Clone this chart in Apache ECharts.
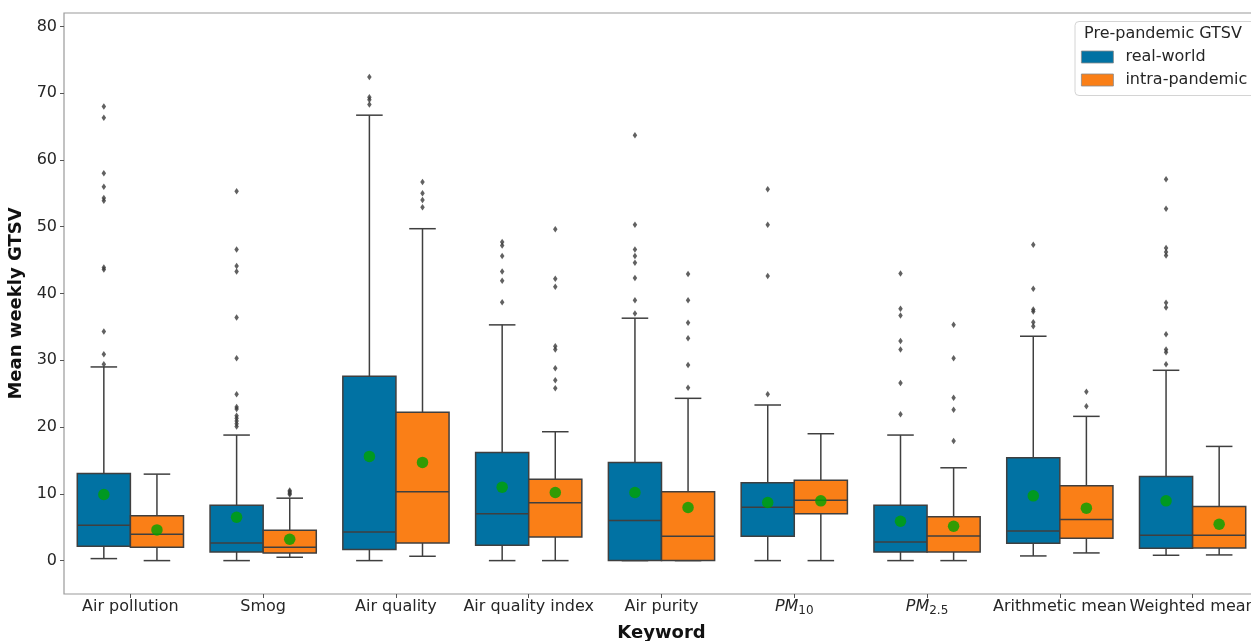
<!DOCTYPE html>
<html>
<head>
<meta charset="utf-8">
<script src="https://cdn.jsdelivr.net/npm/echarts@6/dist/echarts.min.js"></script>
<style>
  html, body { margin: 0; padding: 0; background: #fff; }
  #chart { width: 1251px; height: 641px; }
</style>
</head>
<body>
<div id="chart"></div>
<script>
// Keywords on the x axis
const keywords = ['Air pollution', 'Smog', 'Air quality', 'Air quality index', 'Air purity',
  'PM10', 'PM2.5', 'Arithmetic mean', 'Weighted mean'];

// Box statistics per keyword: [lower whisker, Q1, median, Q3, upper whisker]
const realWorldBox = [
  [0.3, 2.15, 5.3, 13.05, 29.0],
  [0, 1.3, 2.65, 8.3, 18.8],
  [0, 1.65, 4.3, 27.6, 66.7],
  [0, 2.3, 7.0, 16.2, 35.3],
  [0, 0, 6.0, 14.7, 36.3],
  [0, 3.65, 8.0, 11.65, 23.3],
  [0, 1.3, 2.8, 8.3, 18.8],
  [0.7, 2.6, 4.45, 15.4, 33.6],
  [0.8, 1.85, 3.8, 12.6, 28.5]
];
const intraBox = [
  [0, 2.0, 3.95, 6.7, 12.95],
  [0.5, 1.15, 2.0, 4.55, 9.35],
  [0.65, 2.65, 10.3, 22.2, 49.7],
  [0, 3.55, 8.65, 12.2, 19.3],
  [0, 0, 3.65, 10.3, 24.3],
  [0, 7.0, 9.05, 12.05, 19.0],
  [0, 1.3, 3.7, 6.55, 13.9],
  [1.15, 3.35, 6.15, 11.2, 21.6],
  [0.85, 1.9, 3.8, 8.1, 17.1]
];

// Means per keyword
const realWorldMeans = [9.9, 6.5, 15.6, 11.0, 10.2, 8.7, 5.9, 9.7, 8.95];
const intraMeans = [4.6, 3.2, 14.7, 10.2, 7.95, 8.95, 5.15, 7.85, 5.45];

// Outliers per keyword
const realWorldOutliers = [
  [29.4, 30.9, 34.3, 43.6, 43.9, 53.9, 54.3, 56.0, 58.0, 66.3, 68.0],
  [20.1, 20.5, 20.9, 21.3, 21.7, 22.7, 23.0, 24.9, 30.3, 36.4, 43.3, 44.1, 46.6, 55.3],
  [68.3, 69.0, 69.4, 72.4],
  [38.7, 41.9, 43.3, 45.6, 47.2, 47.7],
  [37.0, 39.0, 42.3, 44.6, 45.6, 46.6, 50.3, 63.7],
  [24.9, 42.6, 50.3, 55.6],
  [21.9, 26.6, 31.6, 32.9, 36.7, 37.7, 43.0],
  [35.1, 35.7, 37.3, 37.6, 40.7, 47.3],
  [29.4, 31.2, 31.6, 33.9, 37.9, 38.6, 45.7, 46.2, 46.8, 52.7, 57.1]
];
const intraOutliers = [
  [],
  [9.9, 10.1, 10.3, 10.5],
  [52.9, 54.0, 55.0, 56.7],
  [25.8, 27.0, 28.8, 31.6, 32.1, 41.0, 42.2, 49.6],
  [25.9, 29.3, 33.3, 35.6, 39.0, 42.9],
  [],
  [17.9, 22.6, 24.4, 30.3, 35.3],
  [23.1, 25.3],
  []
];

const yTicks = [0, 10, 20, 30, 40, 50, 60, 70, 80];
const groupNames = ['real-world', 'intra-pandemic'];

const FONT = 'DejaVu Sans';
const BLUE = '#0172a3';
const ORANGE = '#fa7f17';
const EDGE = '#3f3f3f';
const BOX_FRAC = 0.4;   // each box takes 40% of a category band
const OFFSETS = [-0.2, 0.2];

function boxRenderer(offset) {
  return function (params, api) {
    const cat = api.value(0);
    const band = api.size([1, 0])[0];
    const w = band * BOX_FRAC;
    const cx = api.coord([cat, 0])[0] + offset * band;
    const y = [1, 2, 3, 4, 5].map(d => api.coord([cat, api.value(d)])[1]);
    const color = api.visual('color');
    const lineStyle = { stroke: EDGE, lineWidth: 1.5 };
    return {
      type: 'group',
      children: [
        { type: 'line', shape: { x1: cx, y1: y[0], x2: cx, y2: y[1] }, style: lineStyle },
        { type: 'line', shape: { x1: cx, y1: y[3], x2: cx, y2: y[4] }, style: lineStyle },
        { type: 'line', shape: { x1: cx - w / 4, y1: y[0], x2: cx + w / 4, y2: y[0] }, style: lineStyle },
        { type: 'line', shape: { x1: cx - w / 4, y1: y[4], x2: cx + w / 4, y2: y[4] }, style: lineStyle },
        { type: 'rect', shape: { x: cx - w / 2, y: y[3], width: w, height: y[1] - y[3] },
          style: { fill: color, stroke: EDGE, lineWidth: 1.5 } },
        { type: 'line', shape: { x1: cx - w / 2, y1: y[2], x2: cx + w / 2, y2: y[2] }, style: lineStyle }
      ]
    };
  };
}

function boxData(stats) {
  return stats.map((s, i) => [i].concat(s));
}
function meanData(means, offset) {
  return means.map((m, i) => [i + offset, m]);
}
function outlierData(list, offset) {
  const out = [];
  list.forEach((vals, i) => vals.forEach(v => out.push([i + offset, v])));
  return out;
}

const chart = echarts.init(document.getElementById('chart'), null, { renderer: 'canvas' });

const option = {
  animation: false,
  backgroundColor: '#ffffff',
  color: [BLUE, ORANGE],
  grid: {
    left: 64, top: 13, width: 1195, height: 581,
    outerBoundsMode: 'none',
    containLabel: false,
    show: true, borderColor: '#9a9a9a', borderWidth: 1.2, backgroundColor: 'transparent'
  },
  legend: {
    data: groupNames,
    orient: 'vertical',
    left: 1081, top: 48,
    padding: 0,
    itemWidth: 32, itemHeight: 12, itemGap: 5,
    icon: 'rect',
    itemStyle: { borderColor: '#8a8a8a', borderWidth: 0.8 },
    textStyle: { fontFamily: FONT, fontSize: 16, color: '#262626', lineHeight: 18, padding: [0, 0, 0, 7] },
    selectedMode: false,
    z: 20
  },
  graphic: [
    {
      type: 'rect', z: 15,
      shape: { x: 1075, y: 21.5, width: 190, height: 74, r: 4 },
      style: { fill: 'rgba(255,255,255,0.85)', stroke: '#d4d4d4', lineWidth: 1 }
    },
    {
      type: 'text', z: 16,
      style: { x: 1163, y: 34, text: 'Pre-pandemic GTSV', align: 'center', verticalAlign: 'middle',
        font: '16px "DejaVu Sans"', fill: '#262626' }
    }
  ],
  xAxis: [
    {
      type: 'category',
      data: keywords,
      boundaryGap: true,
      name: 'Keyword',
      nameLocation: 'middle',
      nameGap: 30,
      nameTextStyle: { fontFamily: FONT, fontSize: 18, fontWeight: 'bold', color: '#111' },
      axisLine: { show: false, onZero: false },
      axisTick: { show: true, alignWithLabel: true, length: 4, lineStyle: { color: '#555', width: 1 } },
      axisLabel: {
        fontFamily: FONT, fontSize: 16, color: '#262626', margin: 3, lineHeight: 20,
        interval: 0,
        formatter: function (v) {
          if (v === 'PM10') return '{pm|PM}{sub|10}';
          if (v === 'PM2.5') return '{pm|PM}{sub|2.5}';
          return v;
        },
        rich: {
          pm: { fontFamily: FONT, fontSize: 16, fontStyle: 'italic', color: '#262626', lineHeight: 20, verticalAlign: 'middle' },
          sub: { fontFamily: FONT, fontSize: 12, color: '#262626', lineHeight: 12, verticalAlign: 'bottom' }
        }
      },
      splitLine: { show: false }
    },
    {
      type: 'value', min: -0.5, max: 8.5, show: false,
      axisLine: { onZero: false }
    }
  ],
  yAxis: {
    type: 'value',
    min: -5, max: 82,
    name: 'Mean weekly GTSV',
    nameLocation: 'middle',
    nameRotate: 90,
    nameGap: 35,
    nameTextStyle: { fontFamily: FONT, fontSize: 18, fontWeight: 'bold', color: '#111' },
    axisLine: { show: false, onZero: false },
    axisTick: { show: true, length: 4, customValues: yTicks, lineStyle: { color: '#555', width: 1 } },
    axisLabel: { fontFamily: FONT, fontSize: 16, color: '#262626', margin: 7, customValues: yTicks },
    splitLine: { show: false }
  },
  series: [
    {
      name: groupNames[0], type: 'custom', xAxisIndex: 0,
      renderItem: boxRenderer(OFFSETS[0]),
      encode: { x: 0, y: [1, 2, 3, 4, 5] },
      data: boxData(realWorldBox), z: 2
    },
    {
      name: groupNames[1], type: 'custom', xAxisIndex: 0,
      renderItem: boxRenderer(OFFSETS[1]),
      encode: { x: 0, y: [1, 2, 3, 4, 5] },
      data: boxData(intraBox), z: 2
    },
    {
      name: 'outliers-rw', type: 'scatter', xAxisIndex: 1,
      symbol: 'diamond', symbolSize: [4.5, 6.5],
      itemStyle: { color: '#3a3a3a' },
      data: outlierData(realWorldOutliers, OFFSETS[0]), z: 3
    },
    {
      name: 'outliers-ip', type: 'scatter', xAxisIndex: 1,
      symbol: 'diamond', symbolSize: [4.5, 6.5],
      itemStyle: { color: '#3a3a3a' },
      data: outlierData(intraOutliers, OFFSETS[1]), z: 3
    },
    {
      name: 'mean-rw', type: 'scatter', xAxisIndex: 1,
      symbol: 'circle', symbolSize: 11.5,
      itemStyle: { color: '#00a300' },
      data: meanData(realWorldMeans, OFFSETS[0]), z: 4
    },
    {
      name: 'mean-ip', type: 'scatter', xAxisIndex: 1,
      symbol: 'circle', symbolSize: 11.5,
      itemStyle: { color: '#00a300' },
      data: meanData(intraMeans, OFFSETS[1]), z: 4
    }
  ]
};

chart.setOption(option);
</script>
</body>
</html>
